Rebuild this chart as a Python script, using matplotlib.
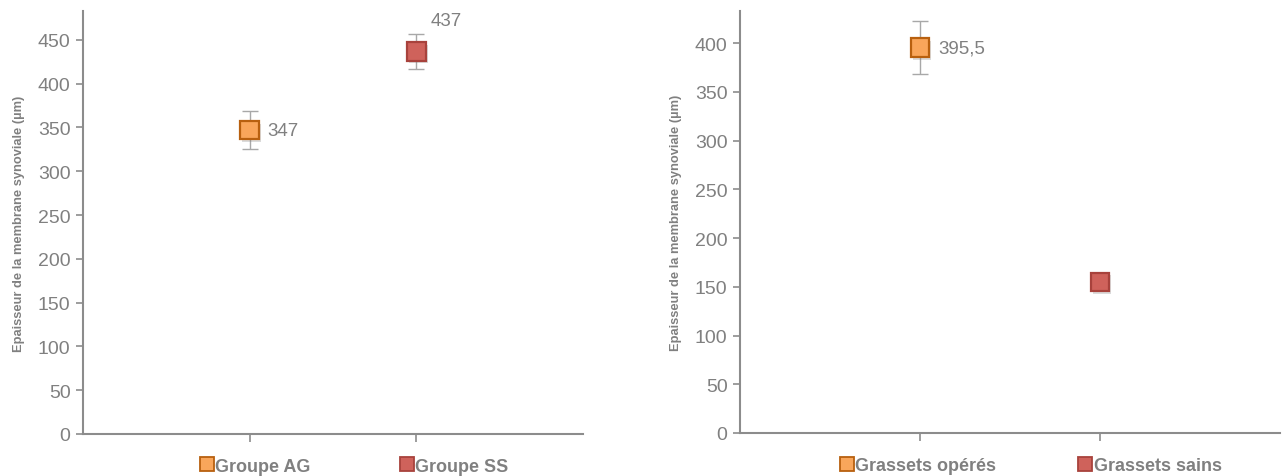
import matplotlib
matplotlib.use("Agg")
import matplotlib.pyplot as plt
import matplotlib.patheffects as pe
from matplotlib.lines import Line2D

plt.rcParams['font.family'] = ['Liberation Sans', 'DejaVu Sans']

# Data
left_categories = ["Groupe AG", "Groupe SS"]
left_values = [347, 437]
left_errors = [22, 20]
left_labels = ["347", "437"]

right_categories = ["Grassets opérés", "Grassets sains"]
right_values = [395.5, 155]
right_errors = [27.5, 0]
right_labels = ["395,5", None]

ylabel = "Epaisseur de la membrane synoviale (µm)"
left_yticks = [0, 50, 100, 150, 200, 250, 300, 350, 400, 450]
right_yticks = [0, 50, 100, 150, 200, 250, 300, 350, 400]

face_colors = ["#F9A65B", "#CF625B"]
edge_colors = ["#B8600F", "#A8423C"]
GRAY = "#808080"
SPINE = "#8C8C8C"

fig = plt.figure(figsize=(12.85, 4.77), dpi=100)
axL = fig.add_axes([83/1285, 42/477, 500/1285, 423/477])
axR = fig.add_axes([740/1285, 43/477, 540/1285, 422/477])


def draw(ax, cats, vals, errs, labels, yticks, ymax, label_offsets, leg_x, leg_y, colsp):
    xs = [1, 2]
    for i, (x, v, e) in enumerate(zip(xs, vals, errs)):
        if e > 0:
            ax.errorbar([x], [v], yerr=[e], fmt='none', ecolor="#A8A8A8",
                        elinewidth=1.0, capsize=6, capthick=1.0, zorder=2)
        ax.plot([x], [v], marker='s', markersize=13.5, markerfacecolor=face_colors[i],
                markeredgecolor=edge_colors[i], markeredgewidth=1.6, linestyle='none',
                zorder=3,
                path_effects=[pe.SimplePatchShadow(offset=(1.5, -2), shadow_rgbFace='#888888', alpha=0.3),
                              pe.Normal()])
        if labels[i]:
            dx, dy = label_offsets[i]
            ax.annotate(labels[i], (x, v), xytext=(dx, dy), textcoords='offset points',
                        fontsize=13.5, color=GRAY, ha='left', va='center')
    ax.set_xlim(0, 3)
    ax.set_ylim(0, ymax)
    ax.set_xticks(xs)
    ax.set_xticklabels([])
    ax.set_yticks(yticks)
    ax.tick_params(axis='y', direction='out', length=5, width=1.2, color=SPINE,
                   labelsize=14, labelcolor=GRAY, pad=4)
    ax.tick_params(axis='x', direction='out', length=6, width=1.2, color=SPINE)
    for s in ['top', 'right']:
        ax.spines[s].set_visible(False)
    for s in ['left', 'bottom']:
        ax.spines[s].set_color(SPINE)
        ax.spines[s].set_linewidth(1.5)
    ax.set_ylabel(ylabel, fontsize=9.3, fontweight='bold', color=GRAY, labelpad=9)
    handles = [Line2D([], [], marker='s', linestyle='none', markersize=9.5,
                      markerfacecolor=face_colors[i], markeredgecolor=edge_colors[i],
                      markeredgewidth=1.3) for i in range(2)]
    leg = ax.legend(handles, cats, loc='center', bbox_to_anchor=(leg_x, leg_y), ncol=2,
                    frameon=False, handlelength=0.7, handletextpad=0.1, columnspacing=colsp,
                    prop={'size': 13, 'weight': 'bold'}, borderaxespad=0)
    for t in leg.get_texts():
        t.set_color(GRAY)


draw(axL, left_categories, left_values, left_errors, left_labels, left_yticks, 483,
     [(13, 0), (10, 22)], 0.543, -0.076, 5.0)
draw(axR, right_categories, right_values, right_errors, right_labels, right_yticks, 433,
     [(13, 0), (13, 0)], 0.539, -0.078, 4.6)

fig.savefig("out.png", dpi=100)
